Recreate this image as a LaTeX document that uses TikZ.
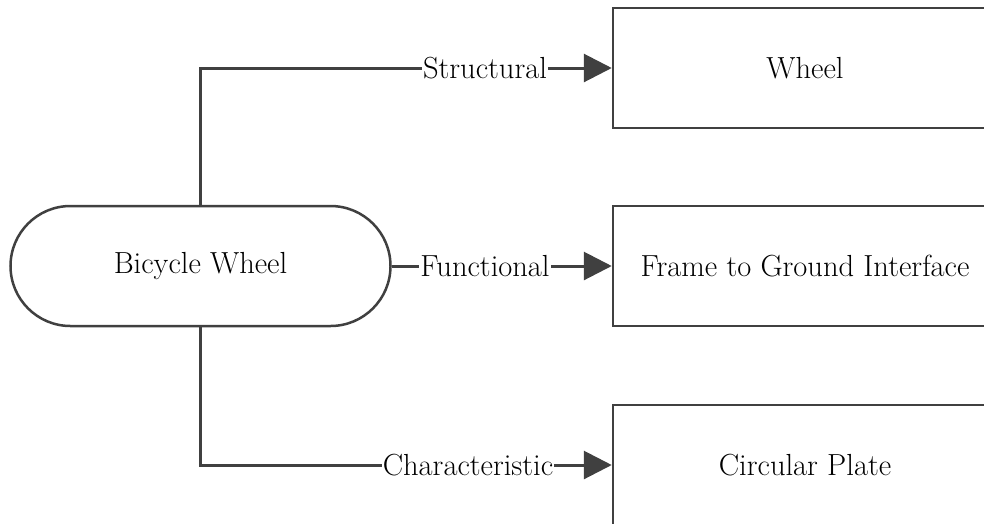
\documentclass[tikz,border=0pt]{standalone}
\usetikzlibrary{arrows.meta}
\definecolor{linegray}{HTML}{404040}
\begin{document}
\begin{tikzpicture}[x=1pt,y=-1pt,
  every node/.style={font=\fontsize{30.5}{36}\selectfont, text=black},
  boxnode/.style={draw=linegray, line width=2.5pt, rectangle, minimum width=384pt, minimum height=120pt, inner sep=0pt, fill=white},
  stadium/.style={draw=linegray, line width=2.5pt, rectangle, rounded corners=60pt, minimum width=380pt, minimum height=120pt, inner sep=0pt, fill=white},
  conn/.style={draw=linegray, line width=3pt, -{Triangle[length=28pt,width=28pt]}},
  lbl/.style={fill=white, inner sep=1pt}]
\useasboundingbox (0,0) rectangle (984,523);
\clip (0,0) rectangle (984,523);
\node[stadium] (bw) at (200.5,266) {Bicycle Wheel};
\node[boxnode] (w) at (805,68) {Wheel};
\node[boxnode] (f) at (805,266) {Frame to Ground Interface};
\node[boxnode] (c) at (805,465) {Circular Plate};
\draw[conn] (bw.north) |- (w.west);
\draw[conn] (bw.east) -- (f.west);
\draw[conn] (bw.south) |- (c.west);
\node[lbl] (l1) at (485,68) {Structural};
\node[lbl] (l2) at (485,266) {Functional};
\node[lbl] (l3) at (468,465) {Characteristic};
\end{tikzpicture}
\end{document}
